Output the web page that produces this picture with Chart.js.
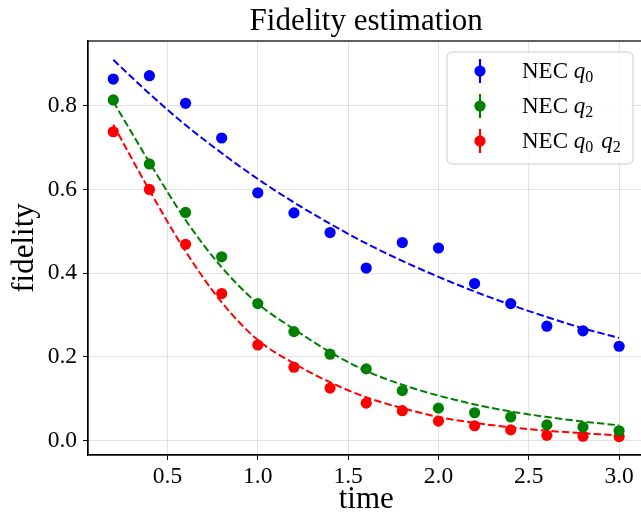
<!DOCTYPE html>
<html>
<head>
<meta charset="utf-8">
<script src="https://cdn.jsdelivr.net/npm/chart.js@4.4.1/dist/chart.umd.min.js"></script>
<style>
    html, body { margin: 0; padding: 0; background: #fff; overflow: hidden; }
    #wrap { width: 641px; height: 516px; overflow: hidden; }
</style>
</head>
<body>
<div id="wrap"><canvas id="fidelityChart" width="650" height="516"></canvas></div>
<script>
const times = [0.2, 0.4, 0.6, 0.8, 1.0, 1.2, 1.4, 1.6, 1.8, 2.0, 2.2, 2.4, 2.6, 2.8, 3.0];
const fidQ0 = [0.864, 0.872, 0.806, 0.723, 0.592, 0.544, 0.497, 0.412, 0.473, 0.460, 0.375, 0.327, 0.273, 0.262, 0.225];
const fidQ2 = [0.814, 0.661, 0.545, 0.439, 0.327, 0.260, 0.206, 0.171, 0.119, 0.077, 0.066, 0.056, 0.037, 0.032, 0.023];
const fidQ0Q2 = [0.738, 0.600, 0.469, 0.351, 0.228, 0.175, 0.125, 0.089, 0.071, 0.046, 0.035, 0.025, 0.012, 0.010, 0.009];

// Fitted curves (dashed)
const fitQ0 = [0.910, 0.829, 0.754, 0.687, 0.625, 0.569, 0.518, 0.471, 0.429, 0.391, 0.356, 0.324, 0.295, 0.268, 0.245];
const fitQ2 = [0.810, 0.665, 0.527, 0.414, 0.327, 0.266, 0.211, 0.166, 0.133, 0.107, 0.086, 0.069, 0.056, 0.045, 0.036];
const fitQ0Q2 = [0.755, 0.598, 0.452, 0.330, 0.240, 0.184, 0.139, 0.103, 0.077, 0.056, 0.042, 0.031, 0.023, 0.017, 0.012];

const seriesLabels = ['NEC q0', 'NEC q2', 'NEC q0 q2'];
const seriesColors = ['#0000ff', '#008000', '#ff0000'];
const xTicks = [0.5, 1.0, 1.5, 2.0, 2.5, 3.0];
const yTicks = [0.0, 0.2, 0.4, 0.6, 0.8];

const SERIF = '"Liberation Serif", "Times New Roman", serif';

function toPoints(ys) {
    return times.map((t, i) => ({ x: t, y: ys[i] }));
}

const measured = [fidQ0, fidQ2, fidQ0Q2];
const fits = [fitQ0, fitQ2, fitQ0Q2];

const datasets = [];
fits.forEach((f, i) => {
    datasets.push({
        type: 'line',
        label: seriesLabels[i] + ' fit',
        data: toPoints(f),
        borderColor: seriesColors[i],
        borderWidth: 2,
        borderDash: [7.4, 3.2],
        pointRadius: 0,
        fill: false,
        cubicInterpolationMode: 'monotone',
        order: 2
    });
});
measured.forEach((m, i) => {
    datasets.push({
        type: 'scatter',
        label: seriesLabels[i],
        data: toPoints(m),
        backgroundColor: seriesColors[i],
        borderWidth: 0,
        pointRadius: 5.6,
        order: 1
    });
});

// title, frame and legend drawn by hand (legend needs italic q with subscripts)
const decorPlugin = {
    id: 'decor',
    afterDatasetsDraw(chart) {
        const ctx = chart.ctx;
        const a = chart.chartArea;
        ctx.save();
        ctx.strokeStyle = '#000';
        ctx.lineWidth = 1.25;
        ctx.strokeRect(a.left, a.top, a.right - a.left, a.bottom - a.top);

        // title
        ctx.fillStyle = '#000';
        ctx.font = '31px ' + SERIF;
        ctx.textAlign = 'center';
        ctx.textBaseline = 'alphabetic';
        ctx.fillText('Fidelity estimation', (a.left + a.right) / 2, 30);

        // legend box
        const bx = 447, by = 52, bw = 186, bh = 112, r = 5;
        ctx.beginPath();
        ctx.moveTo(bx + r, by);
        ctx.arcTo(bx + bw, by, bx + bw, by + bh, r);
        ctx.arcTo(bx + bw, by + bh, bx, by + bh, r);
        ctx.arcTo(bx, by + bh, bx, by, r);
        ctx.arcTo(bx, by, bx + bw, by, r);
        ctx.closePath();
        ctx.fillStyle = 'rgba(255,255,255,0.8)';
        ctx.fill();
        ctx.strokeStyle = '#cccccc';
        ctx.lineWidth = 1;
        ctx.stroke();

        seriesLabels.forEach((label, i) => {
            const cy = 71 + i * 35;
            const mx = 480;
            ctx.strokeStyle = seriesColors[i];
            ctx.lineWidth = 2.2;
            ctx.beginPath();
            ctx.moveTo(mx, cy - 12);
            ctx.lineTo(mx, cy + 12);
            ctx.stroke();
            ctx.fillStyle = seriesColors[i];
            ctx.beginPath();
            ctx.arc(mx, cy, 5.6, 0, Math.PI * 2);
            ctx.fill();

            // text: "NEC" then q_k terms
            const parts = label.split(' ');
            let x = 522;
            const base = cy + 7;
            ctx.fillStyle = '#000';
            ctx.textAlign = 'left';
            ctx.font = '23px ' + SERIF;
            ctx.fillText(parts[0], x, base);
            x += ctx.measureText(parts[0] + ' ').width;
            parts.slice(1).forEach((p, k) => {
                if (k > 0) x += 8;
                ctx.font = 'italic 23px ' + SERIF;
                ctx.fillText(p[0], x, base);
                x += ctx.measureText(p[0]).width;
                ctx.font = '16px ' + SERIF;
                ctx.fillText(p.slice(1), x, base + 4);
                x += ctx.measureText(p.slice(1)).width;
            });
        });
        ctx.restore();
    }
};

const ctx = document.getElementById('fidelityChart').getContext('2d');
new Chart(ctx, {
    data: { datasets: datasets },
    options: {
        responsive: false,
        animation: false,
        layout: { padding: { top: 41, right: 1, left: 0, bottom: 0 } },
        plugins: {
            legend: { display: false },
            title: { display: false },
            tooltip: { enabled: false }
        },
        scales: {
            x: {
                type: 'linear',
                min: 0.06,
                max: 3.14,
                afterBuildTicks: (scale) => { scale.ticks = xTicks.map(v => ({ value: v })); },
                afterFit: (scale) => {
                    scale.height = 61;
                    scale.paddingLeft = 0;
                    scale.paddingRight = 0;
                },
                ticks: {
                    color: '#000',
                    font: { family: SERIF, size: 23.5 },
                    padding: 3,
                    maxRotation: 0,
                    callback: (v) => Number(v).toFixed(1)
                },
                grid: {
                    color: 'rgba(176,176,176,0.35)',
                    tickColor: '#000',
                    tickLength: 5,
                    lineWidth: 1
                },
                border: { color: '#000', width: 1.25 },
                title: {
                    display: true,
                    text: 'time',
                    color: '#000',
                    font: { family: SERIF, size: 31, lineHeight: 1 },
                    padding: { top: 0, bottom: 1 }
                }
            },
            y: {
                type: 'linear',
                min: -0.035,
                max: 0.955,
                afterBuildTicks: (scale) => { scale.ticks = yTicks.map(v => ({ value: v })); },
                afterFit: (scale) => {
                    scale.width = 88;
                    scale.paddingTop = 0;
                    scale.paddingBottom = 0;
                },
                ticks: {
                    color: '#000',
                    font: { family: SERIF, size: 23.5 },
                    padding: 6,
                    callback: (v) => Number(v).toFixed(1)
                },
                grid: {
                    color: 'rgba(176,176,176,0.35)',
                    tickColor: '#000',
                    tickLength: 5,
                    lineWidth: 1
                },
                border: { color: '#000', width: 1.25 },
                title: {
                    display: true,
                    text: 'fidelity',
                    color: '#000',
                    font: { family: SERIF, size: 31, lineHeight: 1 },
                    padding: { top: 9, bottom: 0 }
                }
            }
        }
    },
    plugins: [decorPlugin]
});
</script>
</body>
</html>
